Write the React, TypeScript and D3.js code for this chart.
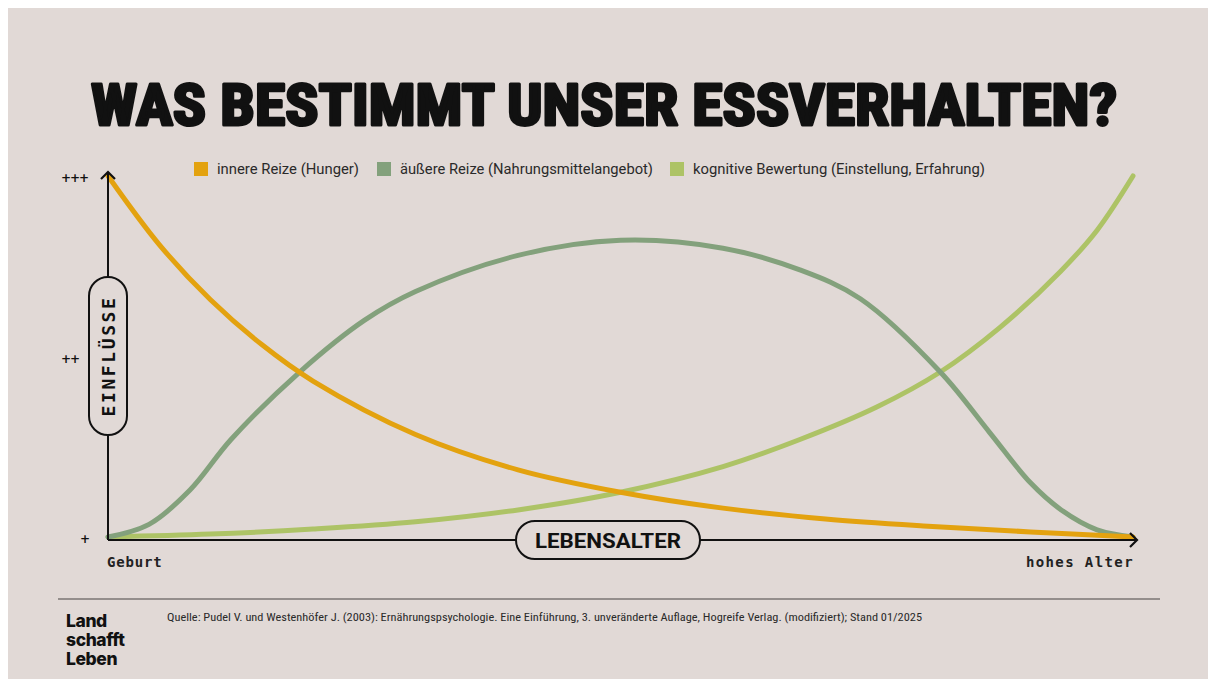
import React from "react";
import * as d3 from "d3";

const W = 1200;
const H = 671;

const legendItems = [
  { label: "innere Reize (Hunger)", color: "#e3a20f" },
  { label: "äußere Reize (Nahrungsmittelangebot)", color: "#83a17c" },
  { label: "kognitive Bewertung (Einstellung, Erfahrung)", color: "#adc366" },
];
const legendWidths = [142, 253, 292];

const yTickLabels = ["+", "++", "+++"];
const yTickValues = [0, 0.5, 1];

// age (0 = Geburt, 1 = hohes Alter) vs. influence (0 = +, 1 = +++)
const innerAge = [0, 0.05, 0.1, 0.15, 0.2, 0.3, 0.4, 0.5, 0.6, 0.7, 0.8, 0.9, 1];
const innerVal = [1, 0.81, 0.657, 0.533, 0.432, 0.284, 0.186, 0.124, 0.08, 0.05, 0.03, 0.014, 0];

const outerAge = [0, 0.04, 0.08, 0.12, 0.187, 0.25, 0.3, 0.4, 0.5, 0.6, 0.675, 0.734, 0.812, 0.86, 0.9, 0.93, 0.965, 1];
const outerVal = [0, 0.035, 0.13, 0.27, 0.457, 0.6, 0.68, 0.78, 0.822, 0.8, 0.74, 0.66, 0.457, 0.29, 0.15, 0.075, 0.02, 0];

const cogAge = [0, 0.1, 0.2, 0.3, 0.4, 0.5, 0.6, 0.675, 0.75, 0.812, 0.87, 0.929, 0.965, 1];
const cogVal = [0, 0.008, 0.022, 0.042, 0.075, 0.124, 0.195, 0.27, 0.36, 0.457, 0.58, 0.735, 0.85, 1];

const series = [
  { age: cogAge, val: cogVal, color: legendItems[2].color },
  { age: outerAge, val: outerVal, color: legendItems[1].color },
  { age: innerAge, val: innerVal, color: legendItems[0].color },
];

export default function App() {
  const x0 = 108;
  const x1 = 1133;
  const y0 = 537;
  const y1 = 176;
  const axisY = 540;
  const x = d3.scaleLinear().domain([0, 1]).range([x0, x1]);
  const y = d3.scaleLinear().domain([0, 1]).range([y0, y1]);
  const line = d3
    .line<[number, number]>()
    .x((d) => x(d[0]))
    .y((d) => Math.min(y0, y(d[1])))
    .curve(d3.curveCatmullRom.alpha(0.5));

  const legendX = [194, 377, 670];
  const tickX = [80, 61, 61];

  return (
    <div style={{ position: "absolute", left: 8, top: 8, width: W, height: H, overflow: "hidden" }}>
      <svg width={W} height={H} viewBox={`8 8 ${W} ${H}`} style={{ display: "block" }}>
        <rect x={8} y={8} width={W} height={H} fill="#e1d9d6" />
        <text
          x={604}
          y={125}
          textAnchor="middle"
          fontFamily="'Liberation Sans Narrow', 'Roboto Condensed', 'DejaVu Sans Condensed', sans-serif"
          fontWeight={700}
          fontSize={58}
          textLength={1026}
          lengthAdjust="spacingAndGlyphs"
          fill="#111"
          stroke="#111"
          strokeWidth={3}
          strokeLinejoin="round"
        >
          WAS BESTIMMT UNSER ESSVERHALTEN?
        </text>

        {legendItems.map((it, i) => (
          <g key={it.label} transform={`translate(${legendX[i]},162)`}>
            <rect width={14} height={14} fill={it.color} />
            <text
              x={23}
              y={12}
              fontFamily="Roboto, sans-serif"
              fontSize={14}
              textLength={legendWidths[i]}
              lengthAdjust="spacingAndGlyphs"
              fill="#2a2a2a"
            >
              {it.label}
            </text>
          </g>
        ))}

        {series.map((s, i) => (
          <path
            key={i}
            d={line(s.age.map((a, j) => [a, s.val[j]] as [number, number])) || ""}
            fill="none"
            stroke={s.color}
            strokeWidth={5}
            strokeLinecap="round"
          />
        ))}

        {/* axes */}
        <line x1={x0} y1={axisY} x2={x0} y2={173} stroke="#111" strokeWidth={2} />
        <path d={`M${x0 - 7},${179} L${x0},${172} L${x0 + 7},${179}`} fill="none" stroke="#111" strokeWidth={2.2} />
        <line x1={x0} y1={axisY} x2={1136} y2={axisY} stroke="#111" strokeWidth={2} />
        <path d={`M${1130},${axisY - 7} L${1137},${axisY} L${1130},${axisY + 7}`} fill="none" stroke="#111" strokeWidth={2.2} />

        {yTickValues.map((v, i) => (
          <text
            key={i}
            x={tickX[i]}
            y={y(v) + 6}
            fontFamily="'DejaVu Sans', sans-serif"
            fontWeight={700}
            fontSize={12}
            letterSpacing={-1}
            fill="#111"
          >
            {yTickLabels[i]}
          </text>
        ))}

        {/* EINFLÜSSE pill */}
        <rect x={89} y={277} width={38} height={158} rx={19} ry={19} fill="#e1d9d6" stroke="#111" strokeWidth={2} />
        <text
          transform={`translate(115,356) rotate(-90)`}
          textAnchor="middle"
          fontFamily="'DejaVu Sans Mono', monospace"
          fontWeight={700}
          fontSize={18}
          letterSpacing={2.6}
          fill="#111"
        >
          EINFLÜSSE
        </text>

        {/* LEBENSALTER pill */}
        <rect x={516} y={521} width={184} height={38} rx={19} ry={19} fill="#e1d9d6" stroke="#111" strokeWidth={2} />
        <text
          x={608}
          y={548}
          textAnchor="middle"
          fontFamily="Roboto, sans-serif"
          fontWeight={700}
          fontSize={20}
          textLength={146}
          lengthAdjust="spacingAndGlyphs"
          fill="#111"
        >
          LEBENSALTER
        </text>

        <text x={107} y={567} fontFamily="'DejaVu Sans Mono', monospace" fontWeight={700} fontSize={14} letterSpacing={0.8} fill="#222">
          Geburt
        </text>
        <text x={1134} y={567} textAnchor="end" fontFamily="'DejaVu Sans Mono', monospace" fontWeight={700} fontSize={14} letterSpacing={1.4} fill="#222">
          hohes Alter
        </text>

        {/* footer */}
        <line x1={58} y1={599} x2={1160} y2={599} stroke="#7a7573" strokeWidth={1.5} />
        <g fontFamily="Inter, Lato, sans-serif" fontWeight={800} fontSize={17.5} fill="#111" letterSpacing={-0.4}>
          <text x={66} y={627}>Land</text>
          <text x={66} y={646}>schafft</text>
          <text x={66} y={665}>Leben</text>
        </g>
        <text
          x={167}
          y={621}
          fontFamily="'Liberation Sans Narrow', 'Roboto Condensed', sans-serif"
          fontSize={10.5}
          textLength={755}
          lengthAdjust="spacingAndGlyphs"
          fill="#2a2a2a"
        >
          Quelle: Pudel V. und Westenhöfer J. (2003): Ernährungspsychologie. Eine Einführung, 3. unveränderte Auflage, Hogreife Verlag. (modifiziert); Stand 01/2025
        </text>
      </svg>
    </div>
  );
}
